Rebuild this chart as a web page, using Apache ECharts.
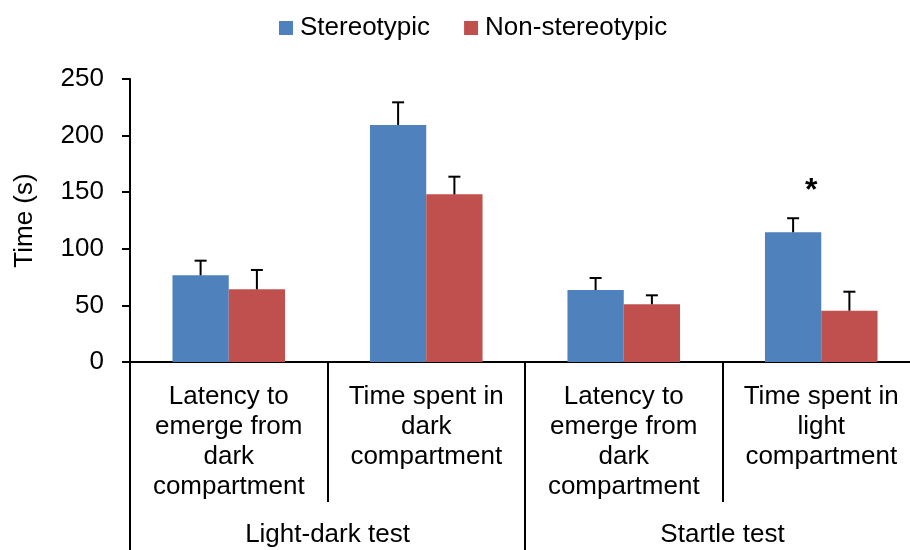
<!DOCTYPE html>
<html>
<head>
<meta charset="utf-8">
<script src="https://cdn.jsdelivr.net/npm/echarts@6/dist/echarts.min.js"></script>
<style>html,body{margin:0;padding:0;background:#fff}#c{width:910px;height:550px}</style>
</head>
<body>
<div id="c"></div>
<script>
const categories = ['Latency to\nemerge from\ndark\ncompartment', 'Time spent in\ndark\ncompartment', 'Latency to\nemerge from\ndark\ncompartment', 'Time spent in\nlight\ncompartment'];
const groups = ['Light-dark test', 'Startle test'];
const seriesNames = ['Stereotypic', 'Non-stereotypic'];
const stereotypic = [76.6, 209.4, 63.6, 114.6];
const stereotypicErr = [12.9, 20.0, 10.6, 12.4];
const nonStereotypic = [64.2, 148.1, 51.0, 45.3];
const nonStereotypicErr = [17.1, 15.6, 7.9, 16.8];
const stereotypicSig = ['', '', '', '*'];
const nonStereotypicSig = ['', '', '', ''];
const yTicks = [0, 50, 100, 150, 200, 250];

const colors = ['#4F81BD', '#C0504D'];
const FONT = '"Liberation Sans", Arial, sans-serif';
const BAR_FRAC = 0.285;

function errSeries(vals, errs, sig, side) {
  return {
    type: 'custom',
    xAxisIndex: 0,
    z: 5,
    data: vals.map((v, i) => [i, v, errs[i]]),
    renderItem: function (params, api) {
      const i = api.value(0), v = api.value(1), e = api.value(2);
      const s = sig[i];
      const band = api.size([1, 0])[0];
      const off = side * band * BAR_FRAC / 2;
      const p0 = api.coord([i, v]);
      const p1 = api.coord([i, v + e]);
      const x = p0[0] + off;
      const cap = 6;
      const st = { stroke: '#000', lineWidth: 2 };
      const children = [
        { type: 'line', shape: { x1: x, y1: p0[1], x2: x, y2: p1[1] }, style: st },
        { type: 'line', shape: { x1: x - cap, y1: p1[1], x2: x + cap, y2: p1[1] }, style: st }
      ];
      if (s) {
        children.push({ type: 'text', style: { text: s, x: x + 18, y: p1[1] - 27, align: 'center', verticalAlign: 'middle', font: 'bold 32px ' + FONT, fill: '#000' } });
      }
      return { type: 'group', children: children };
    }
  };
}

const chart = echarts.init(document.getElementById('c'));
chart.setOption({
  animation: false,
  backgroundColor: '#fff',
  textStyle: { fontFamily: FONT },
  legend: {
    data: seriesNames,
    left: 274,
    top: 10,
    itemWidth: 14,
    itemHeight: 14,
    itemGap: 34,
    icon: 'rect',
    textStyle: { fontSize: 26, color: '#000', fontFamily: FONT, padding: [0, 0, 0, 2] }
  },
  grid: { left: 130, width: 790, top: 79, bottom: 188, containLabel: false, outerBoundsMode: 'none' },
  xAxis: [
    {
      type: 'category',
      data: categories,
      axisLine: { lineStyle: { color: '#000', width: 2 } },
      axisTick: { show: true, length: 140, lineStyle: { color: '#000', width: 2 } },
      axisLabel: { interval: 0, fontSize: 26, lineHeight: 30, margin: 20, color: '#000', fontFamily: FONT, align: 'center' }
    },
    {
      type: 'category',
      data: groups,
      position: 'bottom',
      axisLine: { show: false },
      axisTick: { show: true, length: 195, lineStyle: { color: '#000', width: 2 } },
      axisLabel: { interval: 0, fontSize: 26, lineHeight: 30, margin: 158, color: '#000', fontFamily: FONT }
    }
  ],
  yAxis: {
    type: 'value',
    min: yTicks[0],
    max: yTicks[yTicks.length - 1],
    interval: 50,
    name: 'Time (s)',
    nameLocation: 'middle',
    nameRotate: 90,
    nameGap: 92,
    nameTextStyle: { fontSize: 26, color: '#000', fontFamily: FONT },
    axisLine: { show: true, lineStyle: { color: '#000', width: 2 } },
    axisTick: { show: true, length: 8, lineStyle: { color: '#000', width: 2 } },
    splitLine: { show: false },
    axisLabel: { fontSize: 26, color: '#000', margin: 26, fontFamily: FONT }
  },
  series: [
    { name: seriesNames[0], type: 'bar', data: stereotypic, barWidth: (BAR_FRAC * 100) + '%', barGap: '0%', itemStyle: { color: colors[0] } },
    { name: seriesNames[1], type: 'bar', data: nonStereotypic, barWidth: (BAR_FRAC * 100) + '%', barGap: '0%', itemStyle: { color: colors[1] } },
    errSeries(stereotypic, stereotypicErr, stereotypicSig, -1),
    errSeries(nonStereotypic, nonStereotypicErr, nonStereotypicSig, 1)
  ]
});
</script>
</body>
</html>
